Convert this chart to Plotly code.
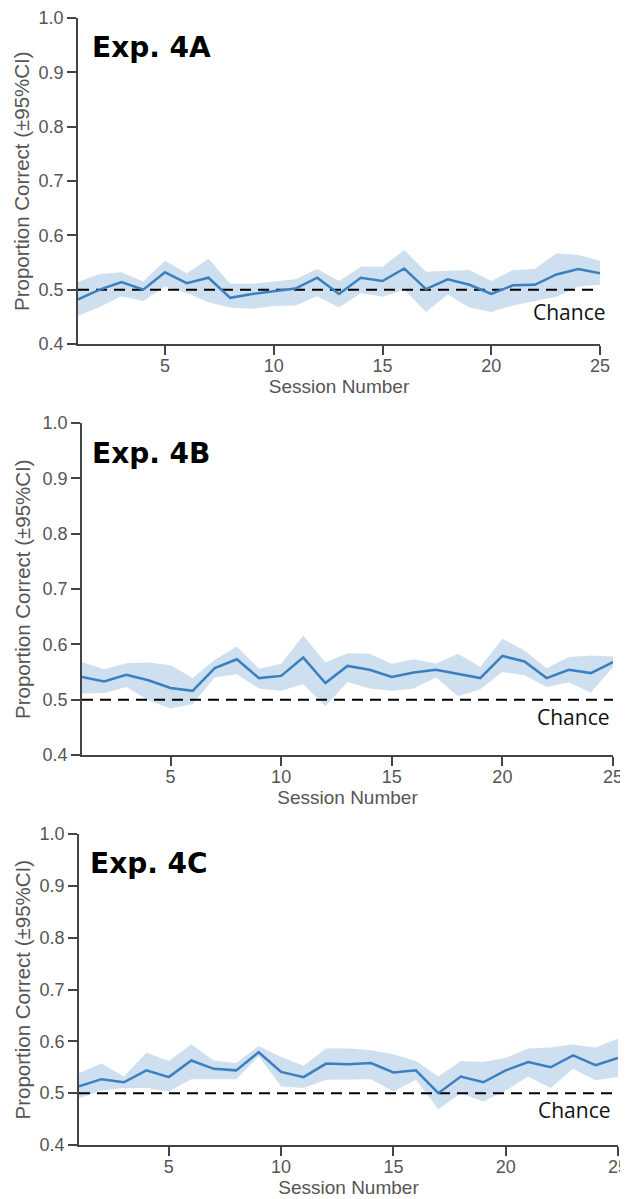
import plotly.graph_objects as go

sessions = list(range(1, 26))

# Exp. 4A
a_mean = [0.482, 0.500, 0.514, 0.500, 0.532, 0.512, 0.522, 0.485, 0.492, 0.497,
          0.502, 0.522, 0.492, 0.522, 0.516, 0.539, 0.501, 0.519, 0.509, 0.492,
          0.508, 0.509, 0.528, 0.538, 0.530]
a_upper = [0.514, 0.529, 0.532, 0.515, 0.553, 0.530, 0.557, 0.511, 0.511, 0.515,
           0.519, 0.538, 0.516, 0.542, 0.542, 0.573, 0.533, 0.535, 0.536, 0.516,
           0.536, 0.538, 0.567, 0.564, 0.553]
a_lower = [0.452, 0.468, 0.488, 0.479, 0.506, 0.494, 0.477, 0.467, 0.465, 0.470,
           0.471, 0.488, 0.467, 0.494, 0.487, 0.500, 0.459, 0.491, 0.467, 0.459,
           0.471, 0.479, 0.487, 0.506, 0.509]

# Exp. 4B
b_mean = [0.541, 0.533, 0.545, 0.535, 0.521, 0.516, 0.557, 0.573, 0.539, 0.543,
          0.576, 0.530, 0.561, 0.554, 0.541, 0.549, 0.554, 0.546, 0.539, 0.579,
          0.569, 0.539, 0.554, 0.548, 0.568]
b_upper = [0.568, 0.555, 0.566, 0.567, 0.562, 0.539, 0.572, 0.596, 0.556, 0.565,
           0.616, 0.567, 0.584, 0.583, 0.565, 0.573, 0.565, 0.583, 0.559, 0.610,
           0.589, 0.557, 0.577, 0.580, 0.578]
b_lower = [0.511, 0.512, 0.523, 0.499, 0.484, 0.492, 0.540, 0.546, 0.520, 0.516,
           0.528, 0.488, 0.532, 0.520, 0.516, 0.520, 0.540, 0.506, 0.519, 0.550,
           0.544, 0.523, 0.531, 0.513, 0.559]

# Exp. 4C
c_mean = [0.513, 0.527, 0.521, 0.544, 0.531, 0.563, 0.547, 0.544, 0.579, 0.541,
          0.531, 0.557, 0.556, 0.558, 0.540, 0.544, 0.500, 0.532, 0.521, 0.544,
          0.560, 0.550, 0.573, 0.554, 0.568]
c_upper = [0.539, 0.557, 0.532, 0.578, 0.562, 0.594, 0.563, 0.558, 0.591, 0.570,
           0.553, 0.586, 0.586, 0.583, 0.575, 0.562, 0.532, 0.562, 0.560, 0.568,
           0.586, 0.588, 0.594, 0.588, 0.605]
c_lower = [0.490, 0.505, 0.510, 0.510, 0.503, 0.527, 0.527, 0.527, 0.571, 0.513,
           0.510, 0.526, 0.526, 0.527, 0.503, 0.526, 0.469, 0.500, 0.484, 0.505,
           0.532, 0.510, 0.547, 0.525, 0.531]

titles = ["Exp. 4A", "Exp. 4B", "Exp. 4C"]
chance = 0.5
y_ticks = [0.4, 0.5, 0.6, 0.7, 0.8, 0.9, 1.0]
x_ticks = [5, 10, 15, 20, 25]

W, H = 628, 1199
OFF = 8  # page body margin offsets the figure on screen
# pixel boxes on screen (left, right, top, bottom) per panel
boxes = [(78, 600, 18, 344), (82, 613, 423, 755), (79, 618, 834, 1145)]
chance_pos = [(8, 0.459), (-1, 0.469), (-5, 0.467)]
title_pos = [(90, 47), (90, 453), (88, 863)]


def px(v):
    return (v - OFF) / W


def py(v):
    return 1 - (v - OFF) / H


LINE = "#3a7fc0"
BAND = "rgba(58,128,192,0.25)"
AX = "#444444"
TXT = "#555555"

fig = go.Figure()
series = [(a_mean, a_upper, a_lower), (b_mean, b_upper, b_lower), (c_mean, c_upper, c_lower)]
for i, (m, u, l) in enumerate(series):
    xa = "x" if i == 0 else f"x{i+1}"
    ya = "y" if i == 0 else f"y{i+1}"
    fig.add_trace(go.Scatter(x=sessions + sessions[::-1], y=u + l[::-1], fill="toself",
                             fillcolor=BAND, line=dict(width=0), mode="lines",
                             hoverinfo="skip", xaxis=xa, yaxis=ya))
    fig.add_trace(go.Scatter(x=[sessions[0], sessions[-1]], y=[chance, chance], mode="lines",
                             line=dict(color="black", width=2, dash="11px,7px"),
                             xaxis=xa, yaxis=ya))
    fig.add_trace(go.Scatter(x=sessions, y=m, mode="lines", line=dict(color=LINE, width=2.5),
                             xaxis=xa, yaxis=ya))

layout = dict(width=W, height=H, margin=dict(l=0, r=0, t=0, b=0, autoexpand=False),
              showlegend=False, plot_bgcolor="white", paper_bgcolor="white",
              font=dict(family="Liberation Sans, Arial, sans-serif", color=TXT))
annotations = []
for i, (l, r, t, b) in enumerate(boxes):
    sx = "" if i == 0 else str(i + 1)
    layout["xaxis" + sx] = dict(
        domain=[px(l), px(r)], range=[1, 25], anchor="y" + sx, automargin=False,
        tickvals=x_ticks, ticks="outside", ticklen=9, tickwidth=1.5, tickcolor=AX,
        ticklabelstandoff=-4,
        showline=True, linecolor=AX, linewidth=1.5, showgrid=False, zeroline=False,
        tickfont=dict(size=18, color=TXT),
        title=dict(text="Session Number", font=dict(size=19, color=TXT), standoff=2))
    layout["yaxis" + sx] = dict(
        domain=[py(b), py(t)], range=[0.4, 1.0], anchor="x" + sx, automargin=False,
        tickvals=y_ticks, tickformat=".1f", ticks="outside", ticklen=9, tickwidth=1.5,
        tickcolor=AX, showline=True, linecolor=AX, linewidth=1.5, showgrid=False,
        zeroline=False, tickfont=dict(size=18, color=TXT))
    annotations.append(dict(text="Proportion Correct (±95%CI)", xref="paper", yref="paper",
                            x=px(22), y=py((t + b) / 2), textangle=-90, showarrow=False,
                            xanchor="center", yanchor="middle",
                            font=dict(size=20.5, color=TXT)))
    tx, ty = title_pos[i]
    annotations.append(dict(text="<b>" + titles[i] + "</b>", xref="paper", yref="paper",
                            x=px(tx), y=py(ty), xanchor="left", yanchor="middle",
                            showarrow=False,
                            font=dict(family="DejaVu Sans", size=28, color="black")))
    shx, cy = chance_pos[i]
    annotations.append(dict(text="Chance", xref="x" + sx, yref="y" + sx, x=25, y=cy,
                            xanchor="right", yanchor="middle", xshift=shx, showarrow=False,
                            font=dict(family="Open Sans", size=21, color="#111111")))
layout["annotations"] = annotations
fig.update_layout(**layout)
fig.write_html("out.html")
